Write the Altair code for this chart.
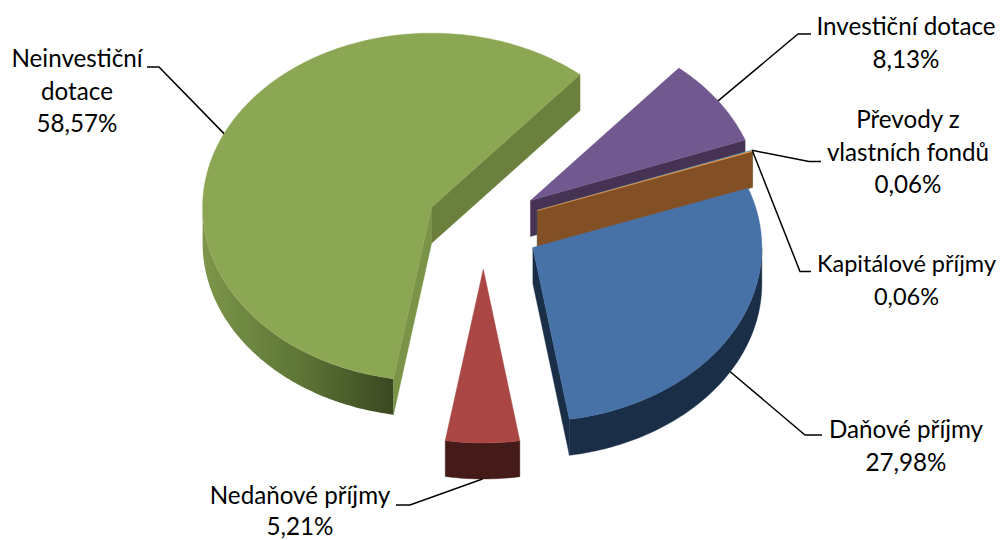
import math
import altair as alt

# ---- values (clockwise, starting at the blue slice)
CATEGORIES = ["Daňové příjmy", "Nedaňové příjmy", "Neinvestiční dotace",
              "Investiční dotace", "Převody z vlastních fondů", "Kapitálové příjmy"]
VALUES = [27.98, 5.21, 58.57, 8.13, 0.06, 0.06]

# ---- styles
TOP = ["#4672A8", "#AA4644", "#8BA753", "#71588F", "#4BACC6", "#F79646"]
WALL_END = ["#1B2E47", "#451B1A", "#6A803C", "#463354", "#2C6E80", "#835026"]
WALL_START = ["#1B2E47", "#451B1A", "#799347", "#463354", "#2C6E80", "#835026"]

# ---- pie layout (page pixels)
CX, CY, RX, RY, DEPTH, EXPLODE, FIRST_ANGLE = 483.5, 225.5, 229, 174, 36, 0.25, 70.1
LABEL_LINES = [["Daňové příjmy"], ["Nedaňové příjmy"], ["Neinvestiční", "dotace"],
               ["Investiční dotace"], ["Převody z", "vlastních fondů"], ["Kapitálové příjmy"]]
LABEL_XY = [(906, 431), (300, 496.5), (77, 60), (906, 28), (908, 121), (906.5, 265)]
LABEL_SIZE = [24.2, 24.2, 24.2, 24.2, 24.2, 23.5]
LABEL_SPACING = [32.7, 31.5, 32.7, 32.7, 32.7, 32.7]
ELBOWS = [[(805, 435), (822, 435)], [(410, 505), (396, 505)], [(159, 67), (147, 67)],
          [(798, 34), (811, 34)], [(809, 161.5), (821, 161.5)], [(800, 271.5), (811, 271.5)]]


def unit(t):
    r = math.radians(t)
    return RX * math.sin(r), -RY * math.cos(r)


def arc(a, b, cx, cy, dy=0.0):
    n = max(2, int(abs(b - a) / 1.0) + 2)
    pts = []
    for i in range(n):
        t = a + (b - a) * i / (n - 1)
        ux, uy = unit(t)
        pts.append([cx + ux, cy + uy + dy])
    return pts


def feature(pts, color):
    return {"type": "Feature", "properties": {"color": color},
            "geometry": {"type": "Polygon", "coordinates": [pts + [pts[0]]]}}


def edge_visible(t, mid):
    dx, dy = unit(t)
    px, py = unit(mid)
    if abs(dx) < 1e-9:
        return False
    return py * 0.999 < dy / dx * px


total = sum(VALUES)
angle = FIRST_ANGLE
green_wall, features, leader_rows = [], [], []
geom = []
for i, v in enumerate(VALUES):
    a, b = angle, angle + v / total * 360
    angle = b
    mid = (a + b) / 2
    ux, uy = unit(mid)
    geom.append((a, b, mid, CX + EXPLODE * ux, CY + EXPLODE * uy))

# paint order: big green first, then the stack from the thin slices to blue and red
for i in [2, 3, 4, 5, 0, 1]:
    a, b, mid, cx, cy = geom[i]
    # outer wall (only the front half of the rim shows)
    for lo, hi in [(a, b), (a - 360, b - 360), (a + 360, b + 360)]:
        s, e = max(lo, 90), min(hi, 270)
        if s < e:
            rim = arc(s, e, cx, cy) + arc(e, s, cx, cy, DEPTH)
            if i == 2:
                green_wall.append(feature(rim, WALL_END[i]))
            else:
                features.append(feature(rim, WALL_END[i]))
    # radial walls
    for t, col in [(a, WALL_START[i]), (b, WALL_END[i])]:
        if edge_visible(t, mid):
            ex, ey = unit(t)
            features.append(feature([[cx, cy], [cx + ex, cy + ey],
                                     [cx + ex, cy + ey + DEPTH], [cx, cy + DEPTH]], col))
    # top face
    top = [[cx, cy]] + arc(a, b, cx, cy)
    features.append(feature(top, TOP[i]))

# leader lines start on the slice rim, at its middle angle
for i in range(len(VALUES)):
    a, b, mid, cx, cy = geom[i]
    ux, uy = unit(mid)
    drop = DEPTH if 90 < mid % 360 < 270 else 0
    pts = [(cx + ux, cy + uy + drop)] + ELBOWS[i]
    for k, (x, y) in enumerate(pts):
        leader_rows.append({"name": CATEGORIES[i], "k": k, "x": x, "y": y})

text_rows = []
for i, lines in enumerate(LABEL_LINES):
    pct = f"{VALUES[i]:.2f}".replace(".", ",") + "%"
    for j, line in enumerate(lines + [pct]):
        text_rows.append({"row": i * 10 + j, "t": line, "x": LABEL_XY[i][0],
                          "y": LABEL_XY[i][1] + j * LABEL_SPACING[i], "fs": LABEL_SIZE[i]})

W, H = 990, 532
proj = dict(type="identity", scale=1, translate=[-8, -8])
xs = alt.Scale(domain=[8, 8 + W], range=[0, W], nice=False, zero=False)
ys = alt.Scale(domain=[8, 8 + H], range=[0, H], nice=False, zero=False)

gradient = alt.Gradient(gradient="linear", x1=0, x2=1, y1=0, y2=0, stops=[
    alt.GradientStop(color="#7C964A", offset=0),
    alt.GradientStop(color="#5E7636", offset=0.5),
    alt.GradientStop(color="#3A4820", offset=1),
])

wall_layer = alt.Chart(alt.Data(values=green_wall)).mark_geoshape(
    fill=gradient, strokeWidth=0).project(**proj)

shape_layer = alt.Chart(alt.Data(values=features)).mark_geoshape(strokeWidth=0.4).encode(
    fill=alt.Fill("properties.color:N", scale=None),
    stroke=alt.Stroke("properties.color:N", scale=None),
).project(**proj)

leaders = alt.Chart(alt.Data(values=leader_rows)).mark_line(
    color="#000000", strokeWidth=1.5, interpolate="linear").encode(
    x=alt.X("x:Q", scale=xs, axis=None),
    y=alt.Y("y:Q", scale=ys, axis=None),
    detail="name:N",
    order="k:Q",
)

labels = alt.Chart(alt.Data(values=text_rows)).mark_text(
    font="Lato", color="#000000", align="center", baseline="middle").encode(
    x=alt.X("x:Q", scale=xs, axis=None),
    y=alt.Y("y:Q", scale=ys, axis=None),
    text="t:N",
    size=alt.Size("fs:Q", scale=None),
)

chart = alt.layer(wall_layer, shape_layer, leaders, labels).properties(
    width=W, height=H, padding=0, autosize="none",
    background="#FFFFFF",
).configure_view(stroke=None)

chart.save("out.html", embed_options={"renderer": "svg", "actions": False})
